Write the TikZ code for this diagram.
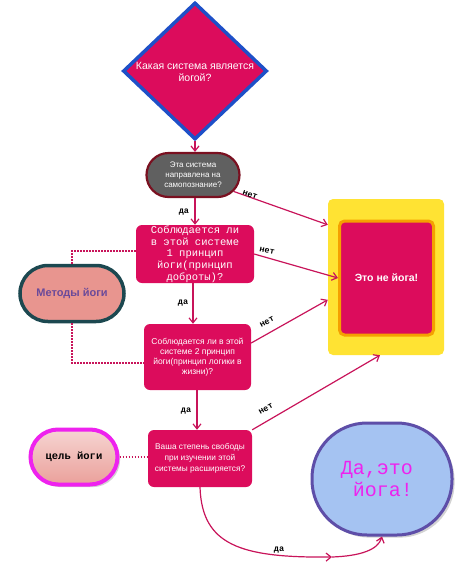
\documentclass[tikz,border=0pt]{standalone}
\usepackage{fontspec}
\setmainfont{Liberation Sans}
\setsansfont{Liberation Sans}
\setmonofont{Liberation Mono}
\usetikzlibrary{shapes.geometric,shapes.misc,arrows.meta,shadows}
\definecolor{crim}{HTML}{DC0C5C}
\definecolor{lnk}{HTML}{C8145A}
\definecolor{dblue}{HTML}{1E50C8}
\definecolor{dkred}{HTML}{7A1020}
\definecolor{gry}{HTML}{606060}
\definecolor{yel}{HTML}{FFE333}
\definecolor{orng}{HTML}{F5A000}
\definecolor{salm}{HTML}{E8958F}
\definecolor{teal}{HTML}{1C4850}
\definecolor{purp}{HTML}{6A4A9A}
\definecolor{magn}{HTML}{EE22EE}
\definecolor{lblue}{HTML}{A5C3F2}
\definecolor{vio}{HTML}{5E4EA8}
\begin{document}
\begin{tikzpicture}[x=1pt,y=-1pt,
  conn/.style={draw=lnk,line width=1.2pt,-{Straight Barb[length=5pt,width=8pt]}},
  dots/.style={draw=lnk,line width=1.5pt,dash pattern=on 1.5pt off 1.5pt},
  qbox/.style={rectangle,rounded corners=6pt,fill=crim,inner sep=0,text=white,align=center},
  lab/.style={font=\fontsize{8.5}{9}\selectfont\ttfamily\bfseries,inner sep=0},
]
\useasboundingbox (0,0) rectangle (457,566);

% diamond
\node[diamond,draw=dblue,line width=3.5pt,fill=crim,minimum width=144,minimum height=137,inner sep=0] (d) at (195,71) {};
\node[text=white,align=center,inner sep=0,font=\fontsize{10.5}{12}\selectfont] (dt) at (195,72) {Какая система является\\йогой?};

% grey stadium
\node[rounded rectangle,draw=dkred,line width=2.2pt,fill=gry,minimum width=93,minimum height=44,inner sep=0,text=white,align=center,font=\fontsize{8}{10}\selectfont] (s) at (193,175) {Эта система\\направлена на\\самопознание?};

% box 1
\node[qbox,minimum width=118,minimum height=58,font=\fontsize{10.5}{11.7}\selectfont\ttfamily] (b1) at (195,254) {Соблюдается ли\\в этой системе\\1 принцип\\йоги(принцип\\доброты)?};

% box 2
\node[qbox,minimum width=107,minimum height=66,font=\fontsize{8.5}{10}\selectfont] (b2) at (197.5,357) {Соблюдается ли в этой\\системе 2 принцип\\йоги(принцип логики в\\жизни)?};

% box 3
\node[qbox,minimum width=104,minimum height=57,font=\fontsize{8.3}{11}\selectfont] (b3) at (200,458.5) {Ваша степень свободы\\при изучении этой\\системы расширяется?};

% yellow frame
\node[rectangle,rounded corners=5pt,fill=yel,minimum width=116,minimum height=156,inner sep=0] (y) at (386,277) {};
\node[rectangle,rounded corners=5pt,draw=orng,line width=3pt,fill=crim,minimum width=94,minimum height=114,inner sep=0,text=white,font=\fontsize{10.5}{12}\selectfont\bfseries] (n) at (386.5,278) {Это не йога!};

% methods
\node[rounded rectangle,draw=teal,line width=3.5pt,fill=salm,minimum width=104,minimum height=56,inner sep=0,text=purp,font=\fontsize{11}{13}\selectfont\bfseries] (m) at (72,293.5) {Методы йоги};

% goal
\node[rounded rectangle,draw=magn,line width=4pt,top color=white!60!salm,bottom color=salm!90!white,minimum width=87,minimum height=55,inner sep=0,drop shadow={opacity=0.35},font=\fontsize{10.5}{12}\selectfont\ttfamily\bfseries] (g) at (74,457) {цель йоги};

% yes it's yoga
\node[rectangle,rounded corners=55pt,draw=vio,line width=3pt,fill=lblue,minimum width=140,minimum height=112,inner sep=0,drop shadow={opacity=0.35},text=magn,align=center,font=\fontsize{20}{22}\selectfont\ttfamily] (e) at (382,479) {Да,это\hspace*{10pt}\\\hphantom{a}йога!\hspace*{10pt}};

% connectors
\draw[conn] (d.south) -- (s.north -| d.south);
\draw[conn] (b1.north |- s.south) -- (b1.north);
\draw[conn] (s.-22) -- ([yshift=-26pt]y.north west);
\draw[conn] (b1.east) -- (n.west);
\draw[conn] ([xshift=-2pt]b1.south) -- ([xshift=-2pt]b1.south |- b2.north);
\draw[conn] ([yshift=14pt]b2.east) -- ([yshift=-101pt]y.north west);
\draw[conn] ([xshift=-0.5pt]b2.south) -- ([xshift=-0.5pt]b2.south |- b3.north);
\draw[conn] (b3.north east) -- ([xshift=-6pt]y.south);
\coordinate (mid) at (332,557);
\draw[conn] (b3.south) .. controls (202,545) and (240,558) .. (mid);
\draw[conn] (mid) .. controls (360,556) and (378,550) .. (e.south);

% dotted links
\draw[dots] (m.north) |- ([yshift=3pt]b1.west);
\draw[dots] (m.south) |- ([yshift=-6pt]b2.west);
\draw[dots] (g.east) -- (b3.west |- g.east);

% labels
\node[lab] (l1) at (184,212) {да};
\node[lab] (l2) at (183,303) {да};
\node[lab] (l3) at (186,411) {да};
\node[lab] (l4) at (279,550) {да};
\node[lab,rotate=-20] (n1) at (250,195) {нет};
\node[lab,rotate=-12] (n2) at (267,251) {нет};
\node[lab,rotate=28] (n3) at (267,322) {нет};
\node[lab,rotate=30] (n4) at (266,409) {нет};
\end{tikzpicture}
\end{document}
